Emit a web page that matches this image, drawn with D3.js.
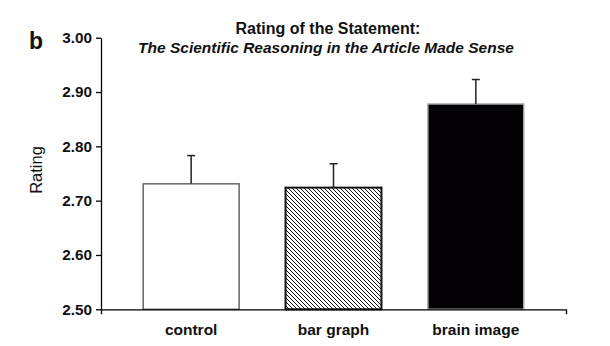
<!DOCTYPE html>
<html>
<head>
<meta charset="utf-8">
<script src="https://cdn.jsdelivr.net/npm/d3@7"></script>
<style>
  body { margin: 0; background: #fff; }
  svg { display: block; font-family: "Liberation Sans", Arial, sans-serif; }
</style>
</head>
<body>
<div id="chart"></div>
<script>
"use strict";

var categories = ["control", "bar graph", "brain image"];
var means = [2.731, 2.724, 2.878];
var errUpper = [2.783, 2.768, 2.923];
var yTicks = [2.50, 2.60, 2.70, 2.80, 2.90, 3.00];

var width = 610, height = 346;
var plot = {left: 101, right: 566, top: 37.7, bottom: 309.3};

var svg = d3.select("#chart").append("svg")
  .attr("width", width)
  .attr("height", height);

svg.append("rect").attr("width", width).attr("height", height).attr("fill", "#fff");

// hatch for the bar graph condition
var defs = svg.append("defs");
defs.append("pattern")
  .attr("id", "hatch")
  .attr("patternUnits", "userSpaceOnUse")
  .attr("width", 4).attr("height", 4)
  .append("path")
  .attr("d", "M-1,-1 L5,5 M-1,3 L1,5 M3,-1 L5,1")
  .attr("stroke", "#111")
  .attr("stroke-width", 1);

var y = d3.scaleLinear().domain([2.5, 3.0]).range([plot.bottom, plot.top]);
var x = d3.scaleBand().domain(categories).range([120, 547])
  .paddingInner(0.326).paddingOuter(0.163);
var frame = d3.scaleLinear().domain([0, 1]).range([plot.left, plot.right]);

var fills = ["#fff", "url(#hatch)", "#020003"];
var strokes = ["#666", "#111", "#aaa"];

// bars
svg.append("g").selectAll("rect")
  .data(categories)
  .join("rect")
  .attr("x", function(d) { return x(d); })
  .attr("y", function(d, i) { return y(means[i]); })
  .attr("width", x.bandwidth())
  .attr("height", function(d, i) { return y(2.5) - y(means[i]); })
  .attr("fill", function(d, i) { return fills[i]; })
  .attr("stroke", function(d, i) { return strokes[i]; })
  .attr("stroke-width", function(d, i) { return i === 1 ? 2 : 1.5; });

// error bars (upper only)
var eb = svg.append("g").attr("stroke", "#222").attr("stroke-width", 1.5);
categories.forEach(function(c, i) {
  var cx = x(c) + x.bandwidth() / 2;
  eb.append("line")
    .attr("x1", cx).attr("x2", cx)
    .attr("y1", y(means[i])).attr("y2", y(errUpper[i]));
  eb.append("line")
    .attr("x1", cx - 4).attr("x2", cx + 4)
    .attr("y1", y(errUpper[i])).attr("y2", y(errUpper[i]));
});

// axes
var yAxis = d3.axisLeft(y).tickValues(yTicks).tickFormat(d3.format(".2f"))
  .tickSize(5).tickSizeOuter(0).tickPadding(4);
var gy = svg.append("g").attr("transform", "translate(" + plot.left + ",0)").call(yAxis);
gy.selectAll("text").attr("font-size", 15.3).attr("font-weight", "bold").attr("fill", "#111")
  .attr("font-family", "Liberation Sans, Arial, sans-serif");
gy.selectAll("line, path").attr("stroke", "#000").attr("stroke-width", 1.3);

var xAxis = d3.axisBottom(frame).tickValues([]).tickSizeOuter(5);
var gx = svg.append("g").attr("transform", "translate(0," + plot.bottom + ")").call(xAxis);
gx.selectAll("path").attr("stroke", "#000").attr("stroke-width", 1.3);

// category labels
svg.append("g").selectAll("text")
  .data(categories)
  .join("text")
  .attr("x", function(d) { return x(d) + x.bandwidth() / 2; })
  .attr("y", 335)
  .attr("text-anchor", "middle")
  .attr("font-size", 15.5)
  .attr("font-weight", "bold")
  .attr("fill", "#111")
  .text(function(d) { return d; });

// axis title
svg.append("text")
  .attr("transform", "translate(42,170) rotate(-90)")
  .attr("text-anchor", "middle")
  .attr("font-size", 16.5)
  .attr("fill", "#111")
  .text("Rating");

// panel letter
svg.append("text")
  .attr("x", 29).attr("y", 49)
  .attr("font-size", 23)
  .attr("font-weight", "bold")
  .attr("fill", "#111")
  .text("b");

// title
svg.append("text")
  .attr("x", 328).attr("y", 33.5)
  .attr("text-anchor", "middle")
  .attr("font-size", 16)
  .attr("font-weight", "bold")
  .attr("fill", "#111")
  .text("Rating of the Statement:");
svg.append("text")
  .attr("x", 326).attr("y", 53)
  .attr("text-anchor", "middle")
  .attr("font-size", 15.5)
  .attr("font-weight", "bold")
  .attr("font-style", "italic")
  .attr("fill", "#111")
  .text("The Scientific Reasoning in the Article Made Sense");
</script>
</body>
</html>
